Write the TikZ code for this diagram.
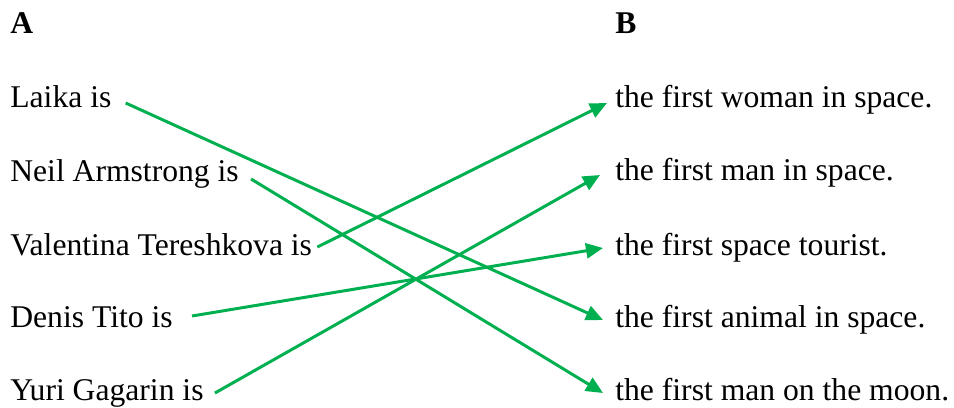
\documentclass[tikz,border=0pt]{standalone}
\usepackage{fontspec}
\setmainfont{Liberation Serif}
\usepackage{tikz}
\usetikzlibrary{arrows.meta}
\definecolor{linkgreen}{RGB}{0,176,80}

\begin{document}
\begin{tikzpicture}[x=0.02cm,y=-0.02cm,
		every node/.style={inner sep=0pt,font=\fontsize{18}{22}\selectfont},
		leftitem/.style={anchor=base west},
		rightitem/.style={anchor=base west},
		link/.style={draw=linkgreen,line width=1.7pt,-{Triangle[length=0.34cm,width=0.3cm]}}]
		\useasboundingbox (0,0) rectangle (954,407);
		
		% Headings
		\node[leftitem,font=\fontsize{18}{22}\selectfont\bfseries] (colA) at (10,33) {A};
		\node[rightitem,font=\fontsize{18}{22}\selectfont\bfseries] (colB) at (615,33) {B};
		
		% Column A
		\node[leftitem] (laika) at (10,107) {Laika is};
		\node[leftitem] (neil) at (10,181) {Neil Armstrong is};
		\node[leftitem] (valentina) at (10,255) {Valentina Tereshkova is};
		\node[leftitem] (denis) at (10,327) {Denis Tito is};
		\node[leftitem] (yuri) at (10,400) {Yuri Gagarin is};
		
		% Column B
		\node[rightitem] (woman) at (615,107) {the first woman in space.};
		\node[rightitem] (man) at (615,180) {the first man in space.};
		\node[rightitem] (tourist) at (615,255) {the first space tourist.};
		\node[rightitem] (animal) at (615,327) {the first animal in space.};
		\node[rightitem] (moon) at (615,400) {the first man on the moon.};
		
		% Links
		\draw[link] ([shift={(14,-4)}]laika.base east) -- ([shift={(-12,-7)}]animal.base west);
		\draw[link] ([shift={(12,-2)}]neil.base east) -- ([shift={(-12,-7)}]moon.base west);
		\draw[link] ([shift={(5,-8)}]valentina.base east) -- ([shift={(-8,-4)}]woman.base west);
		\draw[link] ([shift={(19,-11)}]denis.base east) -- ([shift={(-12,-7)}]tourist.base west);
		\draw[link] ([shift={(11,-7)}]yuri.base east) -- ([shift={(-15,-5)}]man.base west);
\end{tikzpicture}
\end{document}
